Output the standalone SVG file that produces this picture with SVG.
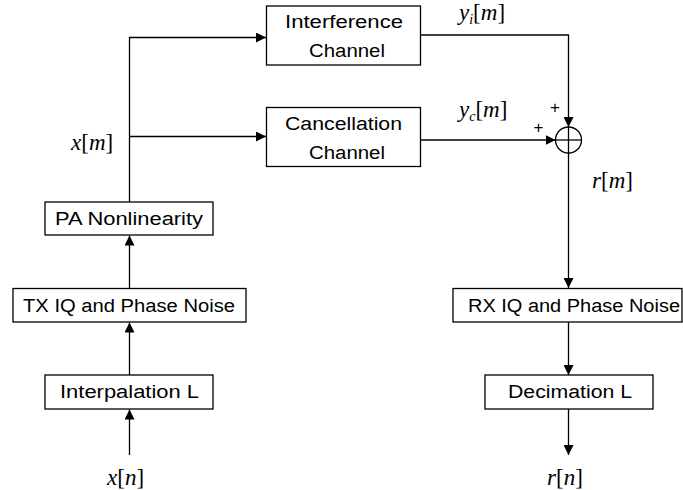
<svg xmlns="http://www.w3.org/2000/svg" width="683" height="490" viewBox="0 0 683 490">
  <defs>
    <marker id="arrow" markerWidth="10" markerHeight="10" refX="10" refY="5" orient="auto" markerUnits="userSpaceOnUse">
      <path d="M0,0 L10,5 L0,10 Z" fill="#000"/>
    </marker>
    <style>
      .box { fill: #fff; stroke: #000; stroke-width: 1.3; }
      .lbl { font-family: "Liberation Sans", Arial, sans-serif; font-size: 18px; fill: #000; text-anchor: middle; }
      .math { font-family: "Liberation Serif", "Times New Roman", serif; font-size: 23px; font-style: italic; fill: #000; }
      .up { font-style: normal; }
      .sub { font-size: 14px; }
      .sign { font-family: "Liberation Sans", Arial, sans-serif; font-size: 17px; fill: #000; text-anchor: middle; }
      .wire { fill: none; stroke: #000; stroke-width: 1.3; }
    </style>
  </defs>

  <rect width="683" height="490" fill="#fff"/>

  <g id="connectors">
    <line class="wire" x1="129.5" y1="455" x2="129.5" y2="409.5" marker-end="url(#arrow)"/>
    <line class="wire" x1="129.5" y1="375" x2="129.5" y2="322.5" marker-end="url(#arrow)"/>
    <line class="wire" x1="129.5" y1="288" x2="129.5" y2="235.5" marker-end="url(#arrow)"/>
    <polyline class="wire" points="129.5,202 129.5,37.5 266,37.5" marker-end="url(#arrow)"/>
    <line class="wire" x1="129.5" y1="136.5" x2="266" y2="136.5" marker-end="url(#arrow)"/>
    <polyline class="wire" points="421,35 568.5,35 568.5,127" marker-end="url(#arrow)"/>
    <line class="wire" x1="421" y1="140" x2="555.5" y2="140" marker-end="url(#arrow)"/>
    <line class="wire" x1="568.5" y1="153" x2="568.5" y2="288" marker-end="url(#arrow)"/>
    <line class="wire" x1="568.5" y1="322" x2="568.5" y2="375" marker-end="url(#arrow)"/>
    <line class="wire" x1="568.5" y1="409" x2="568.5" y2="455" marker-end="url(#arrow)"/>
  </g>

  <g id="interference-channel">
    <rect class="box" x="266.5" y="6" width="154" height="59"/>
    <text class="lbl" x="344" y="28" textLength="118" lengthAdjust="spacingAndGlyphs">Interference</text>
    <text class="lbl" x="347" y="57" textLength="76" lengthAdjust="spacingAndGlyphs">Channel</text>
  </g>

  <g id="cancellation-channel">
    <rect class="box" x="266.5" y="107.5" width="154" height="59"/>
    <text class="lbl" x="343.5" y="130" textLength="117" lengthAdjust="spacingAndGlyphs">Cancellation</text>
    <text class="lbl" x="347" y="159" textLength="76" lengthAdjust="spacingAndGlyphs">Channel</text>
  </g>

  <g id="pa-nonlinearity">
    <rect class="box" x="45" y="202" width="168" height="33"/>
    <text class="lbl" x="129" y="225" textLength="148" lengthAdjust="spacingAndGlyphs">PA Nonlinearity</text>
  </g>

  <g id="tx-iq">
    <rect class="box" x="13" y="288.5" width="233" height="33.5"/>
    <text class="lbl" x="129" y="311.5" textLength="212" lengthAdjust="spacingAndGlyphs">TX IQ and Phase Noise</text>
  </g>

  <g id="interpolation">
    <rect class="box" x="45" y="375" width="168" height="34"/>
    <text class="lbl" x="129.5" y="398" textLength="139" lengthAdjust="spacingAndGlyphs">Interpalation L</text>
  </g>

  <g id="rx-iq">
    <rect class="box" x="453" y="288.5" width="229" height="33.5"/>
    <text class="lbl" x="574" y="311.5" textLength="212" lengthAdjust="spacingAndGlyphs">RX IQ and Phase Noise</text>
  </g>

  <g id="decimation">
    <rect class="box" x="485" y="375" width="168" height="34"/>
    <text class="lbl" x="570" y="398" textLength="124" lengthAdjust="spacingAndGlyphs">Decimation L</text>
  </g>

  <g id="summer">
    <circle cx="568.5" cy="140" r="13" fill="#fff" stroke="#000" stroke-width="1.3"/>
    <line class="wire" x1="555.5" y1="140" x2="581.5" y2="140"/>
    <line class="wire" x1="568.5" y1="127" x2="568.5" y2="153"/>
    <text class="sign" x="555" y="113">+</text>
    <text class="sign" x="538.5" y="133">+</text>
  </g>

  <g id="signal-labels">
    <text class="math" x="71" y="150">x<tspan class="up">[</tspan>m<tspan class="up">]</tspan></text>
    <text class="math" x="107" y="485">x<tspan class="up">[</tspan>n<tspan class="up">]</tspan></text>
    <text class="math" x="459" y="20">y<tspan class="sub" dy="4">i</tspan><tspan class="up" dy="-4">[</tspan>m<tspan class="up">]</tspan></text>
    <text class="math" x="459" y="117">y<tspan class="sub" dy="4">c</tspan><tspan class="up" dy="-4">[</tspan>m<tspan class="up">]</tspan></text>
    <text class="math" x="592" y="188">r<tspan class="up">[</tspan>m<tspan class="up">]</tspan></text>
    <text class="math" x="547" y="485">r<tspan class="up">[</tspan>n<tspan class="up">]</tspan></text>
  </g>
</svg>
